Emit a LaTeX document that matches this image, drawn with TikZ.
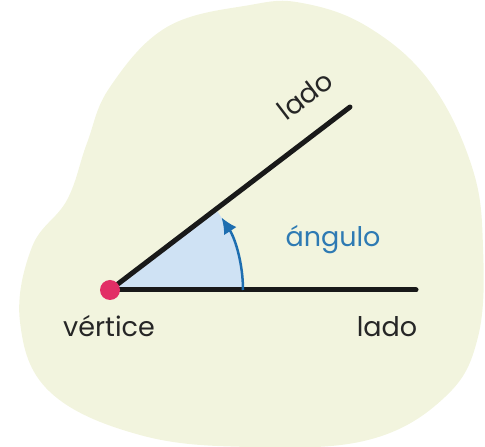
\documentclass[tikz,border=0pt]{standalone}
\usepackage{fontspec}
\setmainfont{Poppins}
\usetikzlibrary{arrows.meta}
\definecolor{blobfill}{RGB}{242,244,222}
\definecolor{wedgeblue}{RGB}{207,226,244}
\definecolor{arrowblue}{RGB}{30,110,176}
\definecolor{textblue}{RGB}{46,122,179}
\definecolor{vertexred}{RGB}{226,46,102}
\tikzset{
  side/.style={line width=5pt,line cap=round,black!90},
  word/.style={font=\fontsize{27}{31}\selectfont,text=black!85,inner sep=0pt}
}
\begin{document}
\begin{tikzpicture}[x=1pt,y=1pt]
\useasboundingbox (0,0) rectangle (485,447);
% background blob
\fill[blobfill] plot[smooth cycle,tension=0.65] coordinates {
  (250,442) (167,420) (110,360) (87,304) (67,247) (32,200)
  (20,125) (50,55) (140,12) (250,0) (368,7) (445,50)
  (478,110) (483,200) (472,280) (430,365) (368,420) (302,444)};

\coordinate (V) at (110,157);
\coordinate (A) at (350,340);
\coordinate (B) at (416,157);

\fill[wedgeblue] (V) -- ++(133pt,0) arc[start angle=0,end angle=37.3,radius=133pt] -- cycle;
\draw[side] (V) -- (A);
\draw[side] (V) -- (B);
\draw[-{Latex[length=16pt,width=15pt]},arrowblue,line width=2.5pt] (V) ++(133pt,0) arc[start angle=0,end angle=33,radius=133pt];
\node[circle,fill=vertexred,minimum size=20pt,inner sep=0pt] (vdot) at (V) {};

\node[word,anchor=base] (vertice) at (109,110) {vértice};
\node[word,anchor=base] (ladoB) at (387,110) {lado};
\node[word,anchor=base,text=textblue] (angulo) at (333,200) {ángulo};
\node[word,anchor=base,rotate=37.3] (ladoA) at (311,344) {lado};
\end{tikzpicture}
\end{document}
